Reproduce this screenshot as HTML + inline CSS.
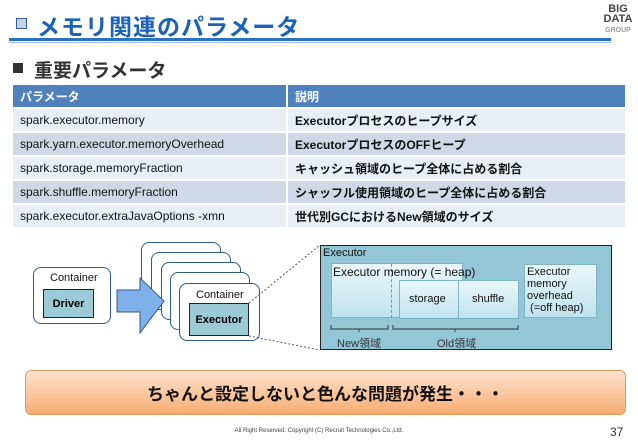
<!DOCTYPE html>
<html><head><meta charset="utf-8"><style>
*{margin:0;padding:0;box-sizing:border-box}
body{width:638px;height:442px;background:#fff;position:relative;overflow:hidden;font-family:"Liberation Sans","Noto Sans CJK JP",sans-serif}
.a{position:absolute}
.t td{font-family:"Liberation Sans Narrow","Liberation Sans","Noto Sans CJK JP",sans-serif;font-size:12px;color:#111;padding-left:7px;height:22px}
.t{position:absolute;left:13px;top:83px;width:612px;border-collapse:separate;border-spacing:0 2px}
.t tr:nth-child(odd) td{background:#d0d8e8}
.t tr:nth-child(even) td{background:#e9edf4}
.t tr.h td{background:#4f81bd;color:#fff;font-weight:bold}
.t td:first-child{border-right:2px solid #fff;width:275px}
.t td:last-child{font-weight:bold}
.cont{position:absolute;background:#fff;border:1.5px solid #2a5d80;border-radius:8px}
.box{position:absolute;background:#9ccbd8;border:1px solid #222;font-size:11px;display:flex;align-items:center;justify-content:center;font-family:"Liberation Sans Narrow","Liberation Sans",sans-serif;font-weight:bold}
.lb{position:absolute;font-size:11px;color:#111;font-family:"Liberation Sans Narrow","Liberation Sans",sans-serif}
</style></head><body>
<div class="a" style="left:16px;top:18px;width:11px;height:11px;border:1px solid #2c5f9e;background:#c8d4e0"></div>
<div class="a" style="left:37px;top:8px;font-size:23px;font-weight:bold;color:#1a63b8;letter-spacing:1px">メモリ関連のパラメータ</div>
<div class="a" style="left:9px;top:38px;width:602px;height:3px;background:#2c72c0"></div>
<div class="a" style="left:9px;top:42px;width:602px;height:1px;background:#9cc0e6"></div>
<div class="a" style="left:600px;top:4px;width:36px;font-size:11px;line-height:10px;color:#444;text-align:center;font-weight:bold">BIG<br>DATA<br><span style="font-size:7px;color:#999">GROUP</span></div>
<div class="a" style="left:13px;top:63px;width:10px;height:10px;background:#333"></div>
<div class="a" style="left:34px;top:56px;font-size:19px;font-weight:bold;color:#333">重要パラメータ</div>
<table class="t">
<tr class="h"><td>パラメータ</td><td>説明</td></tr>
<tr><td>spark.executor.memory</td><td>Executorプロセスのヒープサイズ</td></tr>
<tr><td>spark.yarn.executor.memoryOverhead</td><td>ExecutorプロセスのOFFヒープ</td></tr>
<tr><td>spark.storage.memoryFraction</td><td>キャッシュ領域のヒープ全体に占める割合</td></tr>
<tr><td>spark.shuffle.memoryFraction</td><td>シャッフル使用領域のヒープ全体に占める割合</td></tr>
<tr><td>spark.executor.extraJavaOptions -xmn</td><td>世代別GCにおけるNew領域のサイズ</td></tr>
</table>

<div class="cont" style="left:33px;top:267px;width:78px;height:57px"></div>
<div class="lb" style="left:50px;top:272px">Container</div>
<div class="box" style="left:43px;top:289px;width:51px;height:29px">Driver</div>

<div class="cont" style="left:141px;top:242px;width:80px;height:58px"></div>
<div class="cont" style="left:151px;top:252px;width:80px;height:58px"></div>
<div class="cont" style="left:161px;top:262px;width:80px;height:58px"></div>
<div class="cont" style="left:170px;top:272px;width:80px;height:58px"></div>
<div class="cont" style="left:179px;top:283px;width:81px;height:58px"></div>
<svg class="a" style="left:0;top:0" width="638" height="442">
<polygon points="117,290 140,290 140,278 164,301 140,333 140,312 117,312" fill="#7fb0ea" stroke="#2d5b8a" stroke-width="1"/>
<line x1="249" y1="303" x2="320" y2="245" stroke="#555" stroke-dasharray="2,2"/>
<line x1="249" y1="336" x2="320" y2="350" stroke="#555" stroke-dasharray="2,2"/>
</svg>
<div class="lb" style="left:196px;top:289px">Container</div>
<div class="box" style="left:189px;top:303px;width:60px;height:33px">Executor</div>

<div class="a" style="left:320px;top:245px;width:292px;height:105px;background:#93c6d6;border:1.5px solid #222"></div>
<div class="lb" style="left:323px;top:247px">Executor</div>
<div class="a" style="left:331px;top:263px;width:132px;height:55px;background:linear-gradient(#eaf7fb,#bfe3ee);border:1px solid #7fb4c6"></div>
<div class="a" style="left:391px;top:264px;height:54px;border-left:1px dashed #6a9aaa"></div>
<div class="a" style="left:399px;top:280px;width:120px;height:39px;background:linear-gradient(#eaf7fb,#bfe3ee);border:1px solid #7fb4c6"></div>
<div class="a" style="left:458px;top:280px;height:39px;border-left:1px solid #7fb4c6"></div>
<div class="lb" style="left:333px;top:265px;font-size:12px">Executor memory (= heap)</div>
<div class="lb" style="left:409px;top:293px">storage</div>
<div class="lb" style="left:472px;top:293px">shuffle</div>
<div class="a" style="left:524px;top:264px;width:73px;height:54px;background:linear-gradient(#eaf7fb,#bfe3ee);border:1px solid #7fb4c6"></div>
<div class="lb" style="left:527px;top:266px;line-height:12px">Executor<br>memory<br>overhead<br>&nbsp;(=off heap)</div>
<svg class="a" style="left:0;top:0" width="638" height="442">
<path d="M331,325 v4 h57 v-4 M359,329 v3 M393,325 v4 h125 v-4 M455,329 v3" fill="none" stroke="#333"/>
</svg>
<div class="lb" style="left:337px;top:335px;color:#333">New領域</div>
<div class="lb" style="left:437px;top:335px;color:#333">Old領域</div>

<div class="a" style="left:25px;top:370px;width:601px;height:45px;border-radius:6px;background:linear-gradient(#fde3cf,#f7ad73);border:1px solid #e09a60;display:flex;align-items:center;justify-content:center;font-size:17px;font-weight:bold;color:#111">ちゃんと設定しないと色んな問題が発生・・・</div>
<div class="a" style="left:0;width:638px;top:428px;text-align:center;font-size:6px;color:#444">All Right Reserved. Copyright (C) Recruit Technologies Co.,Ltd.</div>
<div class="a" style="left:610px;top:425px;font-size:12px;color:#333">37</div>
</body></html>
